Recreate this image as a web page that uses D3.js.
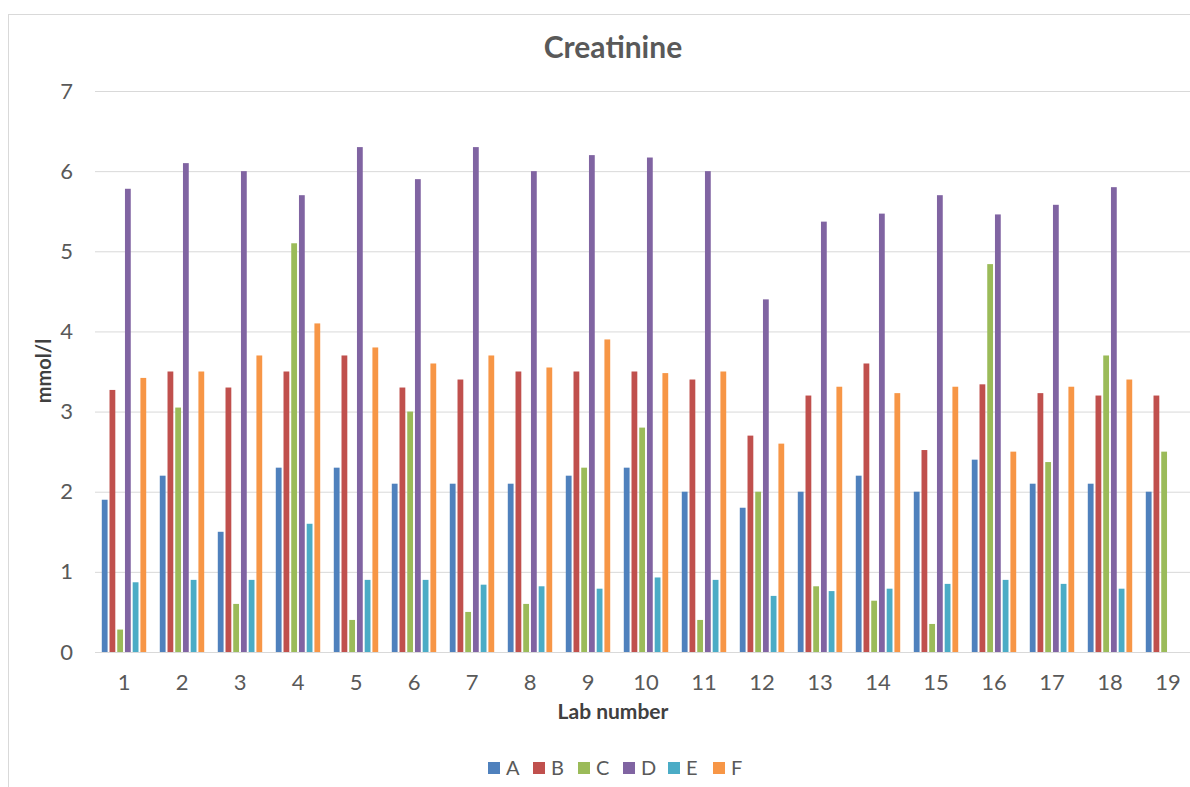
<!DOCTYPE html>
<html>
<head>
<meta charset="utf-8">
<script src="https://cdn.jsdelivr.net/npm/d3@7/dist/d3.min.js"></script>
<style>
  html, body { margin: 0; padding: 0; background: #fff; }
  svg { display: block; font-family: Lato, "Open Sans", sans-serif; }
</style>
</head>
<body>
<svg id="chart" width="1190" height="787"></svg>
<script>
// Creatinine results per lab (mmol/l), one array per sample
const labs = ["1","2","3","4","5","6","7","8","9","10","11","12","13","14","15","16","17","18","19"];
const seriesNames = ["A","B","C","D","E","F"];
const seriesA = [1.9, 2.2, 1.5, 2.3, 2.3, 2.1, 2.1, 2.1, 2.2, 2.3, 2.0, 1.8, 2.0, 2.2, 2.0, 2.4, 2.1, 2.1, 2.0];
const seriesB = [3.27, 3.5, 3.3, 3.5, 3.7, 3.3, 3.4, 3.5, 3.5, 3.5, 3.4, 2.7, 3.2, 3.6, 2.52, 3.34, 3.23, 3.2, 3.2];
const seriesC = [0.28, 3.05, 0.6, 5.1, 0.4, 3.0, 0.5, 0.6, 2.3, 2.8, 0.4, 2.0, 0.82, 0.64, 0.35, 4.84, 2.37, 3.7, 2.5];
const seriesD = [5.78, 6.1, 6.0, 5.7, 6.3, 5.9, 6.3, 6.0, 6.2, 6.17, 6.0, 4.4, 5.37, 5.47, 5.7, 5.46, 5.58, 5.8, null];
const seriesE = [0.87, 0.9, 0.9, 1.6, 0.9, 0.9, 0.84, 0.82, 0.79, 0.93, 0.9, 0.7, 0.76, 0.79, 0.85, 0.9, 0.85, 0.79, null];
const seriesF = [3.42, 3.5, 3.7, 4.1, 3.8, 3.6, 3.7, 3.55, 3.9, 3.48, 3.5, 2.6, 3.31, 3.23, 3.31, 2.5, 3.31, 3.4, null];
const yTicks = [0, 1, 2, 3, 4, 5, 6, 7];

const seriesValues = [seriesA, seriesB, seriesC, seriesD, seriesE, seriesF];
const colors = ["#4F81BD", "#C0504D", "#9BBB59", "#8064A2", "#4BACC6", "#F79646"];

const svg = d3.select("#chart");

// Chart frame
svg.append("rect")
  .attr("x", 8.5).attr("y", 14.5)
  .attr("width", 1240).attr("height", 800)
  .attr("fill", "#fff").attr("stroke", "#D9D9D9").attr("stroke-width", 1);

const plot = { left: 95, right: 1197, top: 91, bottom: 652 };

const x0 = d3.scaleBand()
  .domain(labs)
  .range([plot.left, plot.right])
  .paddingInner(0.234)
  .paddingOuter(0.117);

const x1 = d3.scaleBand()
  .domain(seriesNames)
  .range([0, x0.bandwidth()])
  .paddingInner(0.25);

const y = d3.scaleLinear()
  .domain([0, 7])
  .range([plot.bottom, plot.top]);

// Horizontal gridlines
const yAxis = d3.axisLeft(y)
  .tickValues(yTicks)
  .tickSize(-(plot.right - plot.left))
  .tickPadding(22)
  .tickFormat(d3.format("d"));

const gy = svg.append("g")
  .attr("transform", `translate(${plot.left},0)`)
  .call(yAxis);
gy.select(".domain").remove();
gy.selectAll(".tick line").attr("stroke", "#D9D9D9").attr("stroke-width", 1);
gy.selectAll(".tick text")
  .attr("fill", "#595959")
  .style("font-size", "22px")
  .style("font-family", "Lato, sans-serif");

// Bars
const rows = labs.map((lab, i) => ({
  lab,
  values: seriesNames.map((s, k) => ({ key: s, value: seriesValues[k][i], color: colors[k] }))
}));

svg.append("g")
  .selectAll("g")
  .data(rows)
  .join("g")
  .attr("transform", d => `translate(${x0(d.lab)},0)`)
  .selectAll("rect")
  .data(d => d.values.filter(v => v.value != null))
  .join("rect")
  .attr("x", d => x1(d.key))
  .attr("width", x1.bandwidth())
  .attr("y", d => y(d.value))
  .attr("height", d => y(0) - y(d.value))
  .attr("fill", d => d.color);

// Category axis
const xAxis = d3.axisBottom(x0).tickSize(0).tickPadding(22);
const gx = svg.append("g")
  .attr("transform", `translate(0,${plot.bottom})`)
  .call(xAxis);
gx.select(".domain")
  .attr("stroke", "#D9D9D9")
  .attr("d", `M${plot.left},0.5H${plot.right}`);
gx.selectAll(".tick text")
  .attr("fill", "#595959")
  .style("font-size", "22px")
  .style("font-family", "Lato, sans-serif");

// Titles
svg.append("text")
  .attr("x", 613).attr("y", 58)
  .attr("text-anchor", "middle")
  .attr("fill", "#595959")
  .style("font-size", "30px").style("font-weight", "bold")
  .text("Creatinine");

svg.append("text")
  .attr("x", 613).attr("y", 719)
  .attr("text-anchor", "middle")
  .attr("fill", "#404040")
  .style("font-size", "21px").style("font-weight", "bold")
  .text("Lab number");

svg.append("text")
  .attr("transform", "translate(51,371) rotate(-90)")
  .attr("text-anchor", "middle")
  .attr("fill", "#404040")
  .style("font-size", "20px").style("font-weight", "bold")
  .text("mmol/l");

// Legend
const legendItemW = 45;
const legend = svg.append("g")
  .attr("transform", `translate(${617 - (seriesNames.length * legendItemW) / 2 + 6},768)`);
const li = legend.selectAll("g")
  .data(seriesNames)
  .join("g")
  .attr("transform", (d, i) => `translate(${i * legendItemW},0)`);
li.append("rect")
  .attr("x", 0).attr("y", -6)
  .attr("width", 12).attr("height", 12)
  .attr("fill", (d, i) => colors[i]);
li.append("text")
  .attr("x", 18).attr("y", 7)
  .attr("fill", "#595959")
  .style("font-size", "20px")
  .text(d => d);
</script>
</body>
</html>
